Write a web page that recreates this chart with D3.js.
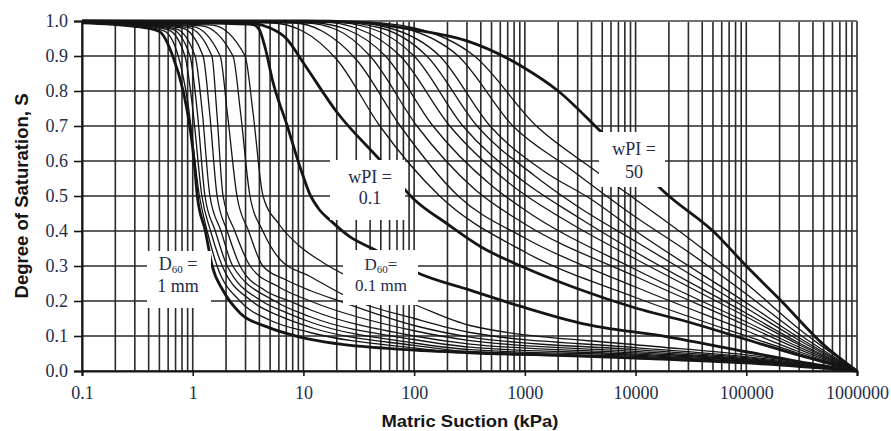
<!DOCTYPE html>
<html>
<head>
<meta charset="utf-8">
<script src="https://cdnjs.cloudflare.com/ajax/libs/d3/7.8.5/d3.min.js"></script>
<style>
  body { margin: 0; background: #fff; }
  svg { display: block; }
</style>
</head>
<body>
<svg width="891" height="431"></svg>
<script>
// degree of saturation vs matric suction (kPa)
// granular soils (PI = 0), D60 = 1 mm ... 0.1 mm
var d60_1mm = [[0.1,0.995],[0.3,0.985],[0.5,0.97],[0.66,0.9],[0.82,0.8],[0.94,0.7],[1.03,0.6],[1.1,0.5],[1.3,0.4],[1.5,0.3],[1.88,0.23],[2.67,0.166],[4.7,0.126],[9.3,0.097],[20,0.078],[100,0.06],[1000,0.048],[1e4,0.037],[1e5,0.023],[1e6,0]]
var d60_01mm = [[0.1,0.998],[1,0.995],[3.5,0.99],[4.0,0.975],[4.5,0.925],[5.3,0.826],[7.1,0.703],[9.5,0.575],[11.5,0.503],[14,0.46],[17.4,0.431],[26.4,0.383],[44.5,0.346],[108,0.28],[320,0.231],[955,0.183],[3160,0.137],[2e4,0.097],[1e5,0.055],[3e5,0.027],[1e6,0]]
var granularThin = [
  [[0.1,0.996],[0.3,0.987],[0.55,0.972],[0.74,0.9],[0.9,0.77],[1.15,0.5],[1.35,0.4],[1.66,0.3],[2.67,0.2],[5,0.145],[11.5,0.11],[100,0.066],[320,0.05],[1e4,0.039],[1e5,0.025],[1e6,0]],
  [[0.1,0.996],[0.3,0.988],[0.6,0.975],[0.85,0.9],[1.0,0.75],[1.21,0.5],[1.45,0.4],[1.85,0.3],[3.4,0.2],[6,0.158],[11.5,0.125],[100,0.073],[320,0.055],[1e4,0.042],[1e5,0.027],[1e6,0]],
  [[0.1,0.997],[0.3,0.989],[0.65,0.977],[0.945,0.9],[1.1,0.74],[1.29,0.5],[1.6,0.4],[2.05,0.3],[4.2,0.2],[7,0.167],[11.5,0.14],[100,0.08],[320,0.061],[1e4,0.045],[1e5,0.029],[1e6,0]],
  [[0.1,0.997],[0.3,0.99],[0.7,0.978],[1.05,0.9],[1.22,0.74],[1.43,0.5],[1.8,0.4],[2.3,0.3],[5.5,0.2],[11.5,0.155],[100,0.09],[320,0.068],[1e4,0.048],[1e5,0.031],[1e6,0]],
  [[0.1,0.997],[0.3,0.99],[0.8,0.98],[1.24,0.9],[1.42,0.74],[1.66,0.5],[2.05,0.4],[2.68,0.3],[4.5,0.23],[7.5,0.2],[11.5,0.175],[100,0.1],[320,0.077],[1e4,0.052],[1e5,0.033],[1e6,0]],
  [[0.1,0.998],[0.3,0.991],[0.9,0.982],[1.49,0.9],[1.65,0.74],[1.88,0.5],[2.4,0.4],[3.3,0.3],[6,0.24],[11.5,0.2],[100,0.115],[320,0.087],[1e4,0.056],[1e5,0.035],[1e6,0]],
  [[0.1,0.998],[0.3,0.992],[1.0,0.984],[1.77,0.9],[2.05,0.74],[2.51,0.5],[3.2,0.4],[4.3,0.3],[7,0.26],[11.5,0.23],[21,0.2],[100,0.13],[320,0.097],[1e4,0.061],[1e5,0.038],[1e6,0]],
  [[0.1,0.998],[0.3,0.993],[1.2,0.986],[2.31,0.9],[2.7,0.74],[3.29,0.5],[4.3,0.4],[6.1,0.32],[11.5,0.27],[30,0.2],[100,0.15],[320,0.11],[1e4,0.067],[1e5,0.041],[1e6,0]],
  [[0.1,0.998],[0.3,0.994],[1.5,0.988],[2.97,0.9],[3.5,0.74],[4.32,0.5],[6,0.42],[9,0.36],[15,0.31],[40,0.24],[100,0.19],[320,0.13],[1e4,0.075],[1e5,0.046],[1e6,0]]
]
// plastic soils, wPI = 0.1 ... 50
var wpi_01 = [[0.1,1],[3,0.995],[5,0.98],[7,0.95],[10,0.88],[20,0.74],[50,0.6],[100,0.49],[200,0.42],[400,0.355],[1000,0.295],[3000,0.235],[1e4,0.18],[3e4,0.14],[1e5,0.09],[3e5,0.045],[1e6,0]]
var wpi_50 = [[0.1,1],[10,1],[30,0.997],[100,0.975],[300,0.943],[1000,0.865],[2000,0.8],[5000,0.68],[1e4,0.59],[2e4,0.5],[5e4,0.4],[1e5,0.3],[2e5,0.205],[5e5,0.075],[1e6,0]]
var plasticThin = [
  [[0.1,1],[5,0.995],[10,0.97],[20,0.89],[49,0.7],[170,0.5],[1000,0.34],[1e4,0.21],[1e5,0.1],[3e5,0.05],[1e6,0]],
  [[0.1,1],[8,0.995],[15,0.97],[30,0.89],[75,0.7],[250,0.5],[1000,0.38],[1e4,0.24],[1e5,0.115],[3e5,0.055],[1e6,0]],
  [[0.1,1],[10,0.995],[20,0.975],[40,0.9],[106,0.7],[350,0.52],[1000,0.42],[1e4,0.27],[1e5,0.13],[3e5,0.062],[1e6,0]],
  [[0.1,1],[12,0.995],[25,0.975],[55,0.9],[148,0.7],[500,0.53],[1000,0.46],[1e4,0.29],[1e5,0.14],[3e5,0.068],[1e6,0]],
  [[0.1,1],[15,0.997],[30,0.98],[75,0.9],[210,0.7],[700,0.54],[3000,0.41],[1e4,0.32],[1e5,0.155],[3e5,0.075],[1e6,0]],
  [[0.1,1],[18,0.997],[40,0.98],[100,0.9],[276,0.7],[900,0.55],[3000,0.44],[1e4,0.34],[1e5,0.165],[3e5,0.08],[1e6,0]],
  [[0.1,1],[20,0.997],[50,0.98],[130,0.9],[370,0.7],[1200,0.56],[3000,0.47],[1e4,0.37],[1e5,0.18],[3e5,0.088],[1e6,0]],
  [[0.1,1],[25,0.997],[60,0.98],[170,0.9],[485,0.7],[1500,0.57],[4000,0.49],[1e4,0.4],[1e5,0.195],[3e5,0.095],[1e6,0]],
  [[0.1,1],[30,0.997],[80,0.98],[250,0.9],[780,0.7],[2500,0.58],[1e4,0.44],[3e4,0.34],[1e5,0.22],[3e5,0.105],[1e6,0]],
  [[0.1,1],[30,0.998],[100,0.98],[350,0.9],[1270,0.7],[4000,0.58],[1e4,0.49],[3e4,0.38],[1e5,0.25],[3e5,0.12],[1e6,0]]
]

var xTicks = [0.1, 1, 10, 100, 1000, 10000, 100000, 1000000]
var yTicks = d3.range(0, 11).map(function (i) { return i / 10 })

var svg = d3.select('svg')
var ink = '#151515'
var textCol = '#232c48'
var serif = '"Liberation Serif", "Times New Roman", serif'

var x = d3.scaleLog().domain([0.1, 1e6]).range([82, 857])
var y = d3.scaleLinear().domain([0, 1]).range([371, 21])

// minor log gridlines 1..9 x 10^k
var gridX = []
xTicks.forEach(function (t) {
  for (var k = 1; k < 10; k++) if (t * k <= 1e6) gridX.push(t * k)
})

var grid = svg.append('g')
grid.selectAll('.gx').data(gridX).enter().append('line')
  .attr('x1', function (d) { return x(d) }).attr('x2', function (d) { return x(d) })
  .attr('y1', y(1)).attr('y2', y(0))
  .style('stroke', '#2a2a2a').style('stroke-width', 1.6)
grid.selectAll('.gy').data(yTicks).enter().append('line')
  .attr('x1', x(0.1)).attr('x2', x(1e6))
  .attr('y1', function (d) { return y(d) }).attr('y2', function (d) { return y(d) })
  .style('stroke', '#2a2a2a').style('stroke-width', 1.6)
// top frame is lighter
svg.append('line').attr('x1', x(0.1)).attr('x2', x(1e6)).attr('y1', y(1)).attr('y2', y(1))
  .style('stroke', '#777').style('stroke-width', 1.4)

// axes
var yAxis = svg.append('g').attr('transform', 'translate(' + x(0.1) + ',0)')
  .call(d3.axisLeft(y).tickValues(yTicks).tickFormat(d3.format('.1f')).tickSize(8).tickPadding(6))
var xAxis = svg.append('g').attr('transform', 'translate(0,' + y(0) + ')')
  .call(d3.axisBottom(x).tickValues(xTicks).tickFormat(function (d) { return String(d) }).tickSize(5).tickPadding(10))
;[xAxis, yAxis].forEach(function (a) {
  a.select('.domain').style('stroke', ink).style('stroke-width', 2)
  a.selectAll('.tick line').style('stroke', ink).style('stroke-width', 1.6)
  a.selectAll('text').style('font-family', serif)
    .style('font-size', '18px').style('fill', textCol)
})

// curves
var line = d3.line()
  .x(function (d) { return x(d[0]) })
  .y(function (d) { return y(d[1]) })
  .curve(d3.curveMonotoneX)

var thin = granularThin.concat(plasticThin)
svg.append('g').selectAll('path').data(thin).enter().append('path')
  .attr('d', line)
  .style('fill', 'none').style('stroke', ink).style('stroke-width', 1.3)

svg.append('g').selectAll('path').data([d60_1mm, d60_01mm, wpi_01, wpi_50]).enter().append('path')
  .attr('d', line)
  .style('fill', 'none').style('stroke', ink).style('stroke-width', 2.8)

// curve labels on white patches
var labels = [
  { box: [147, 251, 64, 57], rows: [['D', '60', ' ='], ['1 mm']], cx: 178, y0: 270, gap: 22, size: 18 },
  { box: [330, 160, 75, 60], rows: [['wPI =' ], ['0.1']], cx: 370, y0: 183, gap: 21, size: 18 },
  { box: [343, 250, 75, 55], rows: [['D', '60', '=' ], ['0.1 mm']], cx: 381, y0: 270, gap: 21, size: 17 },
  { box: [599, 132, 66, 55], rows: [['wPI =' ], ['50']], cx: 634, y0: 155, gap: 23, size: 18 }
]
labels.forEach(function (l) {
  svg.append('rect').attr('x', l.box[0]).attr('y', l.box[1])
    .attr('width', l.box[2]).attr('height', l.box[3]).style('fill', '#fff')
  l.rows.forEach(function (r, i) {
    var t = svg.append('text').attr('x', l.cx).attr('y', l.y0 + i * l.gap)
      .attr('text-anchor', 'middle')
      .style('font-family', serif)
      .style('font-size', l.size + 'px').style('fill', textCol)
    if (r.length === 1) {
      t.text(r[0])
    } else {
      t.append('tspan').text(r[0])
      t.append('tspan').attr('dy', 3).style('font-size', '11px').text(r[1])
      t.append('tspan').attr('dy', -3).text(r[2])
    }
  })
})

// axis titles
svg.append('text')
  .attr('transform', 'translate(28,196) rotate(-90)')
  .attr('text-anchor', 'middle')
  .attr('textLength', 205).attr('lengthAdjust', 'spacingAndGlyphs')
  .style('font-family', '"Liberation Sans", Arial, sans-serif')
  .style('font-weight', 'bold').style('font-size', '18px').style('fill', ink)
  .text('Degree of Saturation, S')

svg.append('text')
  .attr('x', 470).attr('y', 427)
  .attr('text-anchor', 'middle')
  .attr('textLength', 177).attr('lengthAdjust', 'spacingAndGlyphs')
  .style('font-family', '"Liberation Sans", Arial, sans-serif')
  .style('font-weight', 'bold').style('font-size', '17px').style('fill', ink)
  .text('Matric Suction (kPa)')
</script>
</body>
</html>
